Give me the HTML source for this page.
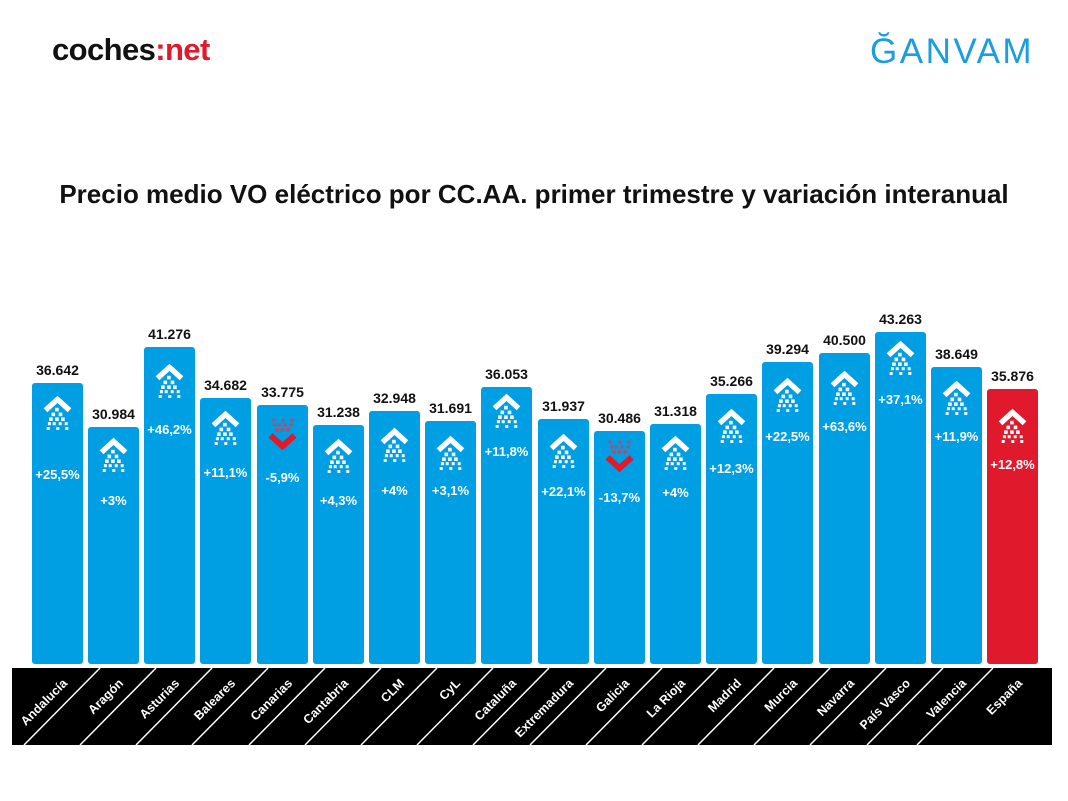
<!DOCTYPE html>
<html><head><meta charset="utf-8"><style>
html,body{margin:0;padding:0;background:#fff;}
svg{display:block;font-family:"Liberation Sans",sans-serif;}
</style></head><body>
<svg width="1068" height="801" viewBox="0 0 1068 801" xmlns="http://www.w3.org/2000/svg">
<defs>
<g id="up0">
<polyline points="-10,-4 0,-13 10,-4" fill="none" stroke="#fff" stroke-width="4.5"/>
<g fill="#fff">
<rect x="-2" y="-6" width="3" height="3"/>
<rect x="-5" y="-2" width="3" height="3"/><rect x="1" y="-2" width="3" height="3"/>
<rect x="-7" y="2" width="3" height="3"/><rect x="-2" y="2" width="3" height="3"/><rect x="3" y="2" width="3" height="3"/>
<rect x="-8" y="6" width="2.5" height="2.5"/><rect x="-4" y="6" width="2.5" height="2.5"/><rect x="1" y="6" width="2.5" height="2.5"/><rect x="6" y="6" width="2.5" height="2.5"/>
<rect x="-9" y="10" width="2.5" height="2.5"/><rect x="6.5" y="10" width="2.5" height="2.5"/><rect x="-1" y="10" width="2.5" height="2.5"/>
</g></g>
<g id="up"><use href="#up0" transform="scale(1.2)"/></g>
<g id="down0">
<g fill="#b84a6a">
<rect x="-9" y="-12" width="2.5" height="2.5"/><rect x="6.5" y="-12" width="2.5" height="2.5"/><rect x="-1" y="-12" width="2.5" height="2.5"/>
<rect x="-8" y="-8" width="2.5" height="2.5"/><rect x="-4" y="-8" width="2.5" height="2.5"/><rect x="1" y="-8" width="2.5" height="2.5"/><rect x="6" y="-8" width="2.5" height="2.5"/>
<rect x="-6" y="-4" width="3" height="3"/><rect x="3" y="-4" width="3" height="3"/><rect x="-1.5" y="-4" width="3" height="3"/>
</g>
<polyline points="-10,2 0,11 10,2" fill="none" stroke="#e0192d" stroke-width="5"/>
</g>
<g id="down"><use href="#down0" transform="scale(1.2)"/></g>
</defs>
<text x="52" y="60" font-size="31" font-weight="bold" fill="#111" letter-spacing="-0.6">coches<tspan fill="#e0192d">:net</tspan></text>
<text x="870" y="63" font-size="35" fill="#1a9ee0" letter-spacing="2.5">ĞANVAM</text>
<text x="534" y="203" font-size="26" font-weight="bold" fill="#111" text-anchor="middle">Precio medio VO eléctrico por CC.AA. primer trimestre y variación interanual</text>
<g font-weight="bold" font-size="14" text-anchor="middle">
<g fill="#009fe3">
<rect x="32" y="383" width="51" height="281" rx="3"/>
<rect x="88" y="427" width="51" height="237" rx="3"/>
<rect x="144" y="347" width="51" height="317" rx="3"/>
<rect x="200" y="398" width="51" height="266" rx="3"/>
<rect x="257" y="405" width="51" height="259" rx="3"/>
<rect x="313" y="425" width="51" height="239" rx="3"/>
<rect x="369" y="411" width="51" height="253" rx="3"/>
<rect x="425" y="421" width="51" height="243" rx="3"/>
<rect x="481" y="387" width="51" height="277" rx="3"/>
<rect x="538" y="419" width="51" height="245" rx="3"/>
<rect x="594" y="431" width="51" height="233" rx="3"/>
<rect x="650" y="424" width="51" height="240" rx="3"/>
<rect x="706" y="394" width="51" height="270" rx="3"/>
<rect x="762" y="362" width="51" height="302" rx="3"/>
<rect x="819" y="353" width="51" height="311" rx="3"/>
<rect x="875" y="332" width="51" height="332" rx="3"/>
<rect x="931" y="367" width="51" height="297" rx="3"/>
</g>
<rect x="987" y="389" width="51" height="275" rx="3" fill="#e0192d"/>
<g fill="#111">
<text x="57.5" y="375">36.642</text><text x="113.5" y="419">30.984</text><text x="169.5" y="339">41.276</text>
<text x="225.5" y="390">34.682</text><text x="282.5" y="397">33.775</text><text x="338.5" y="417">31.238</text>
<text x="394.5" y="403">32.948</text><text x="450.5" y="413">31.691</text><text x="506.5" y="379">36.053</text>
<text x="563.5" y="411">31.937</text><text x="619.5" y="423">30.486</text><text x="675.5" y="416">31.318</text>
<text x="731.5" y="386">35.266</text><text x="787.5" y="354">39.294</text><text x="844.5" y="345">40.500</text>
<text x="900.5" y="324">43.263</text><text x="956.5" y="359">38.649</text><text x="1012.5" y="381">35.876</text>
</g>
<use href="#up" x="57.5" y="415"/><use href="#up" x="113.5" y="457"/><use href="#up" x="169.5" y="383"/>
<use href="#up" x="225.5" y="430"/><use href="#down" x="282.5" y="433"/><use href="#up" x="338.5" y="458"/>
<use href="#up" x="394.5" y="447"/><use href="#up" x="450.5" y="455"/><use href="#up" x="506.5" y="413"/>
<use href="#up" x="563.5" y="453"/><use href="#down" x="619.5" y="455"/><use href="#up" x="675.5" y="455"/>
<use href="#up" x="731.5" y="428"/><use href="#up" x="787.5" y="397"/><use href="#up" x="844.5" y="390"/>
<use href="#up" x="900.5" y="360"/><use href="#up" x="956.5" y="400"/><use href="#up" x="1012.5" y="428"/>
<g fill="#fff" font-size="13">
<text x="57.5" y="479">+25,5%</text><text x="113.5" y="505">+3%</text><text x="169.5" y="434">+46,2%</text>
<text x="225.5" y="477">+11,1%</text><text x="282.5" y="482">-5,9%</text><text x="338.5" y="505">+4,3%</text>
<text x="394.5" y="495">+4%</text><text x="450.5" y="495">+3,1%</text><text x="506.5" y="456">+11,8%</text>
<text x="563.5" y="496">+22,1%</text><text x="619.5" y="502">-13,7%</text><text x="675.5" y="497">+4%</text>
<text x="731.5" y="473">+12,3%</text><text x="787.5" y="441">+22,5%</text><text x="844.5" y="431">+63,6%</text>
<text x="900.5" y="404">+37,1%</text><text x="956.5" y="441">+11,9%</text><text x="1012.5" y="469">+12,8%</text>
</g>
</g>
<rect x="12" y="668" width="1040" height="77" fill="#000"/>
<g stroke="#fff" stroke-width="1.5">
<line x1="100" y1="668" x2="24" y2="745"/><line x1="156" y1="668" x2="80" y2="745"/><line x1="212" y1="668" x2="136" y2="745"/>
<line x1="268" y1="668" x2="192" y2="745"/><line x1="325" y1="668" x2="249" y2="745"/><line x1="381" y1="668" x2="305" y2="745"/>
<line x1="437" y1="668" x2="361" y2="745"/><line x1="493" y1="668" x2="417" y2="745"/><line x1="549" y1="668" x2="473" y2="745"/>
<line x1="606" y1="668" x2="530" y2="745"/><line x1="662" y1="668" x2="586" y2="745"/><line x1="718" y1="668" x2="642" y2="745"/>
<line x1="774" y1="668" x2="698" y2="745"/><line x1="830" y1="668" x2="754" y2="745"/><line x1="886" y1="668" x2="810" y2="745"/>
<line x1="943" y1="668" x2="867" y2="745"/><line x1="993" y1="668" x2="917" y2="745"/>
</g>
<g fill="#fff" font-size="12.5" font-weight="bold" text-anchor="end">
<text transform="translate(68,684) rotate(-45)">Andalucía</text>
<text transform="translate(124,684) rotate(-45)">Aragón</text>
<text transform="translate(180,684) rotate(-45)">Asturias</text>
<text transform="translate(236,684) rotate(-45)">Baleares</text>
<text transform="translate(293,684) rotate(-45)">Canarias</text>
<text transform="translate(349,684) rotate(-45)">Cantabria</text>
<text transform="translate(405,684) rotate(-45)">CLM</text>
<text transform="translate(461,684) rotate(-45)">CyL</text>
<text transform="translate(517,684) rotate(-45)">Cataluña</text>
<text transform="translate(574,684) rotate(-45)">Extremadura</text>
<text transform="translate(630,684) rotate(-45)">Galicia</text>
<text transform="translate(686,684) rotate(-45)">La Rioja</text>
<text transform="translate(742,684) rotate(-45)">Madrid</text>
<text transform="translate(798,684) rotate(-45)">Murcia</text>
<text transform="translate(855,684) rotate(-45)">Navarra</text>
<text transform="translate(911,684) rotate(-45)">País Vasco</text>
<text transform="translate(967,684) rotate(-45)">Valencia</text>
<text transform="translate(1023,684) rotate(-45)">España</text>
</g>
</svg>
</body></html>
